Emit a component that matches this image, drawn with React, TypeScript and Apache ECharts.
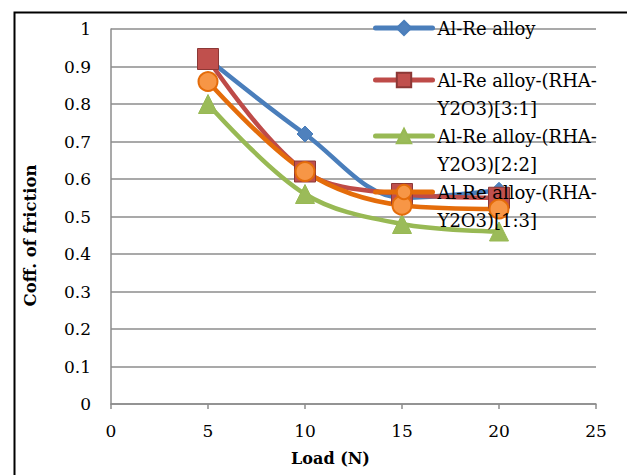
import React, { useEffect, useRef } from "react";
import * as echarts from "echarts";

const loads = [5, 10, 15, 20];
const alloy = [0.92, 0.72, 0.55, 0.57];
const mix31 = [0.92, 0.62, 0.56, 0.55];
const mix22 = [0.8, 0.56, 0.48, 0.46];
const mix13 = [0.86, 0.62, 0.53, 0.52];
const seriesNames = [
  "Al-Re alloy",
  "Al-Re alloy-(RHA-Y2O3)[3:1]",
  "Al-Re alloy-(RHA-Y2O3)[2:2]",
  "Al-Re alloy-(RHA-Y2O3)[1:3]",
];
const xTitle = "Load (N)";
const yTitle = "Coff. of friction";

const FONT = "DejaVu Serif";

export default function App() {
  const ref = useRef<HTMLDivElement>(null);
  useEffect(() => {
    if (!ref.current) return;
    const chart = echarts.init(ref.current, null, { renderer: "svg" });
    const pair = (arr: number[]) => loads.map((x, i) => [x, arr[i]]);
    const mk = (
      name: string,
      arr: number[],
      lineColor: string,
      symbol: string,
      size: number,
      fill: string,
      border: string,
      bw: number
    ) => ({
      name,
      type: "line",
      data: pair(arr),
      smooth: 0.35,
      symbol,
      symbolSize: size,
      lineStyle: { color: lineColor, width: 4.5, cap: "round" },
      itemStyle: { color: fill, borderColor: border, borderWidth: bw },
      emphasis: { disabled: true },
    });
    const legendTops = [14, 38, 94, 150];
    const legends = seriesNames.map((n, i) => ({
      data: [n],
      left: 373,
      top: legendTops[i],
      padding: 0,
      orient: "vertical",
      itemWidth: 57,
      itemHeight: 18,
      itemGap: 3,
      selectedMode: false,
      lineStyle: { width: 5, cap: "round" },
      formatter: (name: string) =>
        i === 0 ? name : "\n" + name.replace("(RHA-", "(RHA-\n"),
      textStyle: { fontFamily: FONT, fontSize: 18, color: "#000", lineHeight: 28 },
    }));
    chart.setOption({
      animation: false,
      backgroundColor: "#fff",
      grid: { left: 111, right: 31, top: 29, bottom: 71 },
      xAxis: {
        type: "value",
        min: 0,
        max: 25,
        interval: 5,
        name: xTitle,
        nameLocation: "middle",
        nameGap: 46,
        nameTextStyle: {
          fontFamily: FONT,
          fontWeight: "bold",
          fontSize: 16,
          color: "#000",
          padding: [0, 46, 0, 0],
        },
        axisLine: { lineStyle: { color: "#8c8c8c", width: 1.5 } },
        axisTick: { show: true, length: 5, lineStyle: { color: "#8c8c8c", width: 1.5 } },
        axisLabel: { fontFamily: FONT, fontSize: 17, color: "#000", margin: 18 },
        splitLine: { show: false },
      },
      yAxis: {
        type: "value",
        min: 0,
        max: 1,
        interval: 0.1,
        name: yTitle,
        nameLocation: "middle",
        nameGap: 72,
        nameTextStyle: {
          fontFamily: FONT,
          fontWeight: "bold",
          fontSize: 16.5,
          color: "#000",
          padding: [0, 38, 0, 0],
        },
        axisLine: { show: true, lineStyle: { color: "#8c8c8c", width: 1.5 } },
        axisTick: { show: false },
        axisLabel: { fontFamily: FONT, fontSize: 17, color: "#000", margin: 20 },
        splitLine: { show: true, lineStyle: { color: "#8c8c8c", width: 1.5 } },
      },
      legend: legends,
      graphic: [
        {
          type: "rect",
          left: 12,
          top: 10,
          shape: { x: 0, y: 0, width: 700, height: 600 },
          style: { fill: "none", stroke: "#000", lineWidth: 2 },
          silent: true,
          z: -10,
        },
      ],
      series: [
        mk(seriesNames[0], alloy, "#4A7EBB", "diamond", 16, "#4F81BD", "#4A7EBB", 1),
        mk(seriesNames[1], mix31, "#BE4B48", "rect", 21, "#C0504D", "#8C3836", 1),
        mk(seriesNames[2], mix22, "#98B954", "triangle", 19, "#9BBB59", "#98B954", 1),
        mk(seriesNames[3], mix13, "#E46C0A", "circle", 19, "#F79646", "#E46C0A", 2),
      ],
    });
    return () => chart.dispose();
  }, []);
  return (
    <div
      ref={ref}
      style={{ position: "fixed", left: 0, top: 0, width: 627, height: 475 }}
    />
  );
}
